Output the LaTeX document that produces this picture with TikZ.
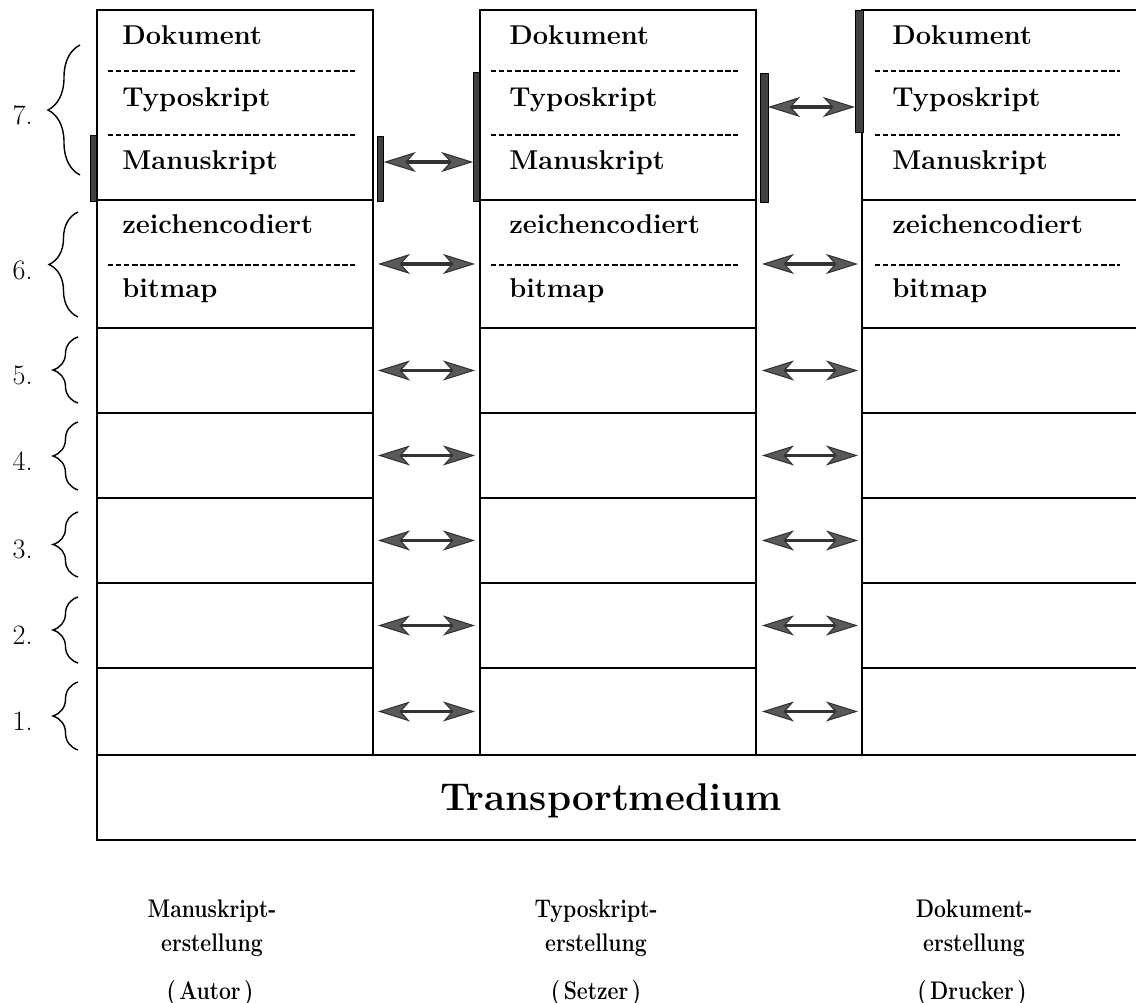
\documentclass[tikz,border=0pt]{standalone}
\usetikzlibrary{decorations.pathreplacing,arrows.meta}
\begin{document}
\begin{tikzpicture}[x=0.02cm,y=-0.02cm,
  layer/.style={draw,line width=1.1pt,inner sep=0pt,outer sep=0pt,anchor=north west,minimum width=5.52cm},
  openlayer/.style={layer,minimum width=5.8cm},
  sep/.style={line width=0.6pt,dash pattern=on 3pt off 1.6pt},
  lbl/.style={anchor=base west,inner sep=0pt,font=\fontsize{15.5}{18}\selectfont\bfseries},
  bar/.style={draw=black,fill=black!75,line width=0.5pt,inner sep=0pt,outer sep=0pt,minimum width=0.13cm},
  dbl/.style={line width=1.9pt,draw=black!80,{Stealth[length=0.64cm,width=0.4cm,inset=0.18cm,fill=black!65,line width=0.6pt]}-{Stealth[length=0.64cm,width=0.4cm,inset=0.18cm,fill=black!65,line width=0.6pt]}},
  lvbrace/.style={decorate,decoration={brace,amplitude=#1},line width=0.8pt},
  num/.style={anchor=east,inner sep=0pt,font=\fontsize{16}{18}\selectfont},
  role/.style={anchor=base,inner sep=0pt,font=\fontsize{14.5}{17}\selectfont\bfseries}
]
\useasboundingbox (0,0) rectangle (1136,1003);
\clip (0,0) rectangle (1136,1003);

% protocol layers of the three stations
\foreach \n/\t/\h in {7/10/3.8,6/200/2.56,5/328/1.7,4/413/1.7,3/498/1.7,2/583/1.7,1/668/1.74}{
  \node[layer,minimum height=\h cm] (a\n) at (97,\t) {};
  \node[layer,minimum height=\h cm] (b\n) at (480,\t) {};
  \node[openlayer,minimum height=\h cm] (c\n) at (862,\t) {};
}

% transport medium
\node[layer,minimum width=21.2cm,minimum height=1.7cm] (tm) at (97,755) {};
\node[anchor=base,inner sep=0pt,font=\fontsize{22}{26}\selectfont\bfseries] (tmtext) at (611,810) {Transportmedium};

% dashed separators inside layers 7 and 6
\foreach \y in {71,135,265}{
  \draw[sep] (108,\y) -- (355,\y);
  \draw[sep] (491,\y) -- (738,\y);
  \draw[sep] (875,\y) -- (1120,\y);
}

% labels in layers 7 and 6
\foreach \x/\c in {122/a,509/b,892/c}{
  \node[lbl] (\c dok) at (\x,45) {Dokument};
  \node[lbl] (\c typ) at (\x,107) {Typoskript};
  \node[lbl] (\c man) at (\x,170) {Manuskript};
  \node[lbl] (\c zei) at (\x,234) {zeichencodiert};
  \node[lbl] (\c bit) at (\x,298) {bitmap};
}

% marker bars for the sublayers in use
\node[bar,minimum width=0.12cm,minimum height=1.32cm] (barA) at (93,168) {};
\node[bar,minimum height=1.3cm] (barB) at (380.5,168.5) {};
\node[bar,minimum height=2.58cm] (barC) at (476.5,136.5) {};
\node[bar,minimum width=0.16cm,minimum height=2.58cm] (barD) at (764,137.5) {};
\node[bar,minimum width=0.16cm,minimum height=2.44cm] (barE) at (859,71) {};

% peer communication
\coordinate (ya) at (0,162);
\coordinate (yb) at (0,107);
\draw[dbl] (barB.east |- ya) -- (barC.west |- ya);
\draw[dbl] (barD.east |- yb) -- (barE.west |- yb);
\foreach \n in {6,5,4,3,2,1}{
  \draw[dbl,shorten <=0.1cm,shorten >=0.1cm] (a\n.east) -- (b\n.west);
  \draw[dbl,shorten <=0.12cm,shorten >=0.08cm] (b\n.east) -- (c\n.west);
}

% layer numbers with braces
\coordinate (b7t) at (80,45);  \coordinate (b7b) at (80,175);
\coordinate (b6t) at (78,212); \coordinate (b6b) at (78,317);
\draw[lvbrace=0.64cm] (b7b) -- (b7t);
\draw[lvbrace=0.58cm] (b6b) -- (b6t);
\node[num] (n7) at (33,115) {7.};
\node[num] (n6) at (33,270) {6.};
\foreach \n/\t/\b in {5/337/403,4/422/490,3/512/577,2/597/663,1/682/750}{
  \coordinate (b\n t) at (78,\t);
  \coordinate (b\n b) at (78,\b);
  \draw[lvbrace=0.5cm] (b\n b) -- (b\n t);
  \node[num] (n\n) at (33,{(\t+\b)/2+5}) {\n.};
}

% stations
\node[role] (s1a) at (212,917) {\scalebox{0.83}[1]{Manuskript-}};
\node[role] (s1b) at (212,951) {\scalebox{0.83}[1]{erstellung}};
\node[role] (s1c) at (210,999) {\scalebox{0.83}[1]{(\,Autor\,)}};
\node[role] (s2a) at (596,917) {\scalebox{0.83}[1]{Typoskript-}};
\node[role] (s2b) at (596,951) {\scalebox{0.83}[1]{erstellung}};
\node[role] (s2c) at (596,999) {\scalebox{0.83}[1]{(\,Setzer\,)}};
\node[role] (s3a) at (974,917) {\scalebox{0.83}[1]{Dokument-}};
\node[role] (s3b) at (974,951) {\scalebox{0.83}[1]{erstellung}};
\node[role] (s3c) at (972,999) {\scalebox{0.83}[1]{(\,Drucker\,)}};
\end{tikzpicture}
\end{document}
